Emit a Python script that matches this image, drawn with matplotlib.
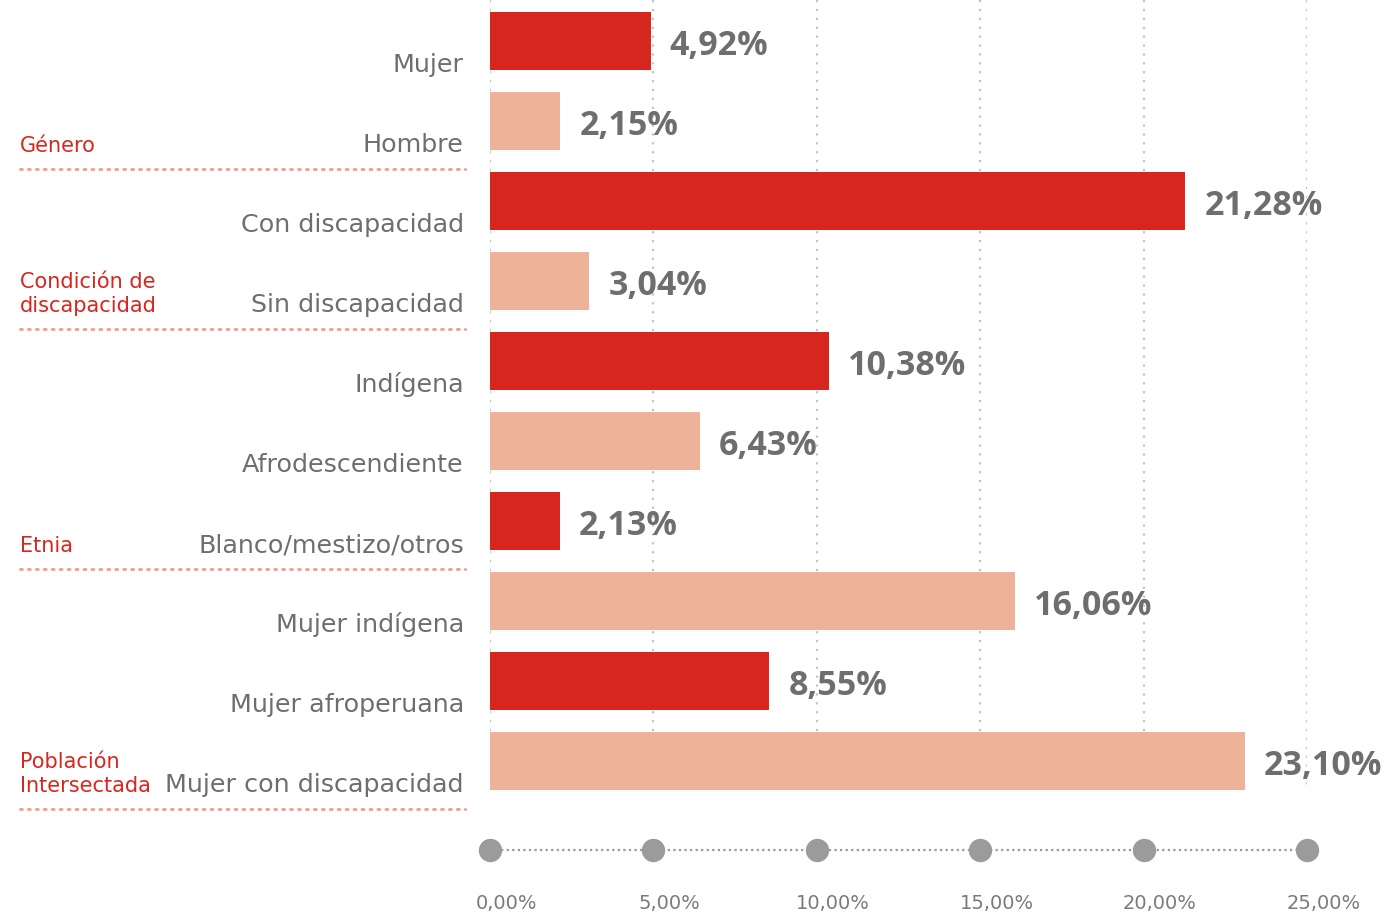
import numpy as np
import matplotlib.pyplot as plt

# Datos
categorias = ['Mujer', 'Hombre', 'Con discapacidad', 'Sin discapacidad', 'Indígena',
              'Afrodescendiente', 'Blanco/mestizo/otros', 'Mujer indígena',
              'Mujer afroperuana', 'Mujer con discapacidad']
valores = [4.92, 2.15, 21.28, 3.04, 10.38, 6.43, 2.13, 16.06, 8.55, 23.10]
etiquetas = ['4,92%', '2,15%', '21,28%', '3,04%', '10,38%', '6,43%', '2,13%',
             '16,06%', '8,55%', '23,10%']
grupos = ['Género', 'Condición de\ndiscapacidad', 'Etnia', 'Población\nIntersectada']
grupo_fin = [1, 3, 6, 9]  # ultima fila de cada grupo
ticks = [0, 5, 10, 15, 20, 25]
tick_labels = ['0,00%', '5,00%', '10,00%', '15,00%', '20,00%', '25,00%']

rojo = '#D7261E'
salmon = '#EEB19A'
gris = '#6E6E6E'

W, H = 1385, 918
fig = plt.figure(figsize=(W / 100, H / 100), dpi=100)
plt.rcParams['font.family'] = ['DejaVu Sans']

# eje en pixeles: x 490..1307 => 0..25 ; filas de 80 px, primera centrada en y=41
x0, x1 = 490, 1307
ax = fig.add_axes([x0 / W, 0, (x1 - x0) / W, 1])
ax.set_xlim(0, 25)
y_top = -41 / 80
y_bot = (H - 41) / 80
ax.set_ylim(y_bot, y_top)
ax.axis('off')

y = np.arange(len(valores))
colores = [rojo if i % 2 == 0 else salmon for i in y]

# lineas de referencia punteadas
for t in ticks:
    ax.plot([t, t], [y_top, 9.37], color='#C4C4C4', lw=1.6, ls=(0, (1, 3)), zorder=1)

ax.barh(y, valores, height=0.73, color=colores, zorder=2)

for i, v in enumerate(valores):
    ax.text(v + 0.58, i + 0.18, etiquetas[i], fontsize=24.5, fontweight='bold',
            family=['Open Sans', 'DejaVu Sans'], color=gris, va='baseline',
            ha='left', zorder=3)

# etiquetas de categorias (a la izquierda del eje)
base = 0.39  # linea base del texto respecto al centro de la fila
for i, c in enumerate(categorias):
    ax.text(-0.8, i + base, c, fontsize=18.3, color=gris, ha='right', va='baseline',
            clip_on=False)

# grupos y separadores (la linea base es la de la ultima linea del texto)
px = 1 / ((x1 - x0) / 25)  # unidades de datos por pixel
for g, fin in zip(grupos, grupo_fin):
    ax.text(-470 * px, fin + base, g, fontsize=15, color=rojo,
            ha='left', va='baseline', linespacing=1.25, clip_on=False)
    ax.plot([-470 * px, -25 * px], [fin + 0.6, fin + 0.6], color='#F0A58C', lw=2.2,
            ls=(0, (0.6, 2)), clip_on=False, solid_capstyle='round',
            dash_capstyle='round')

# eje inferior con puntos
y_eje = (850 - 41) / 80
ax.plot([0, 25], [y_eje, y_eje], color='#999999', lw=1.6, ls=(0, (1, 1.5)), zorder=1)
ax.scatter(ticks, [y_eje] * len(ticks), s=250, color='#9B9B9B', zorder=2, clip_on=False)
for t, lab in zip(ticks, tick_labels):
    ax.text(t + 0.5, (909 - 41) / 80, lab, fontsize=14, color='#7A7A7A',
            ha='center', va='baseline', clip_on=False)

fig.savefig('out.png', dpi=100)
